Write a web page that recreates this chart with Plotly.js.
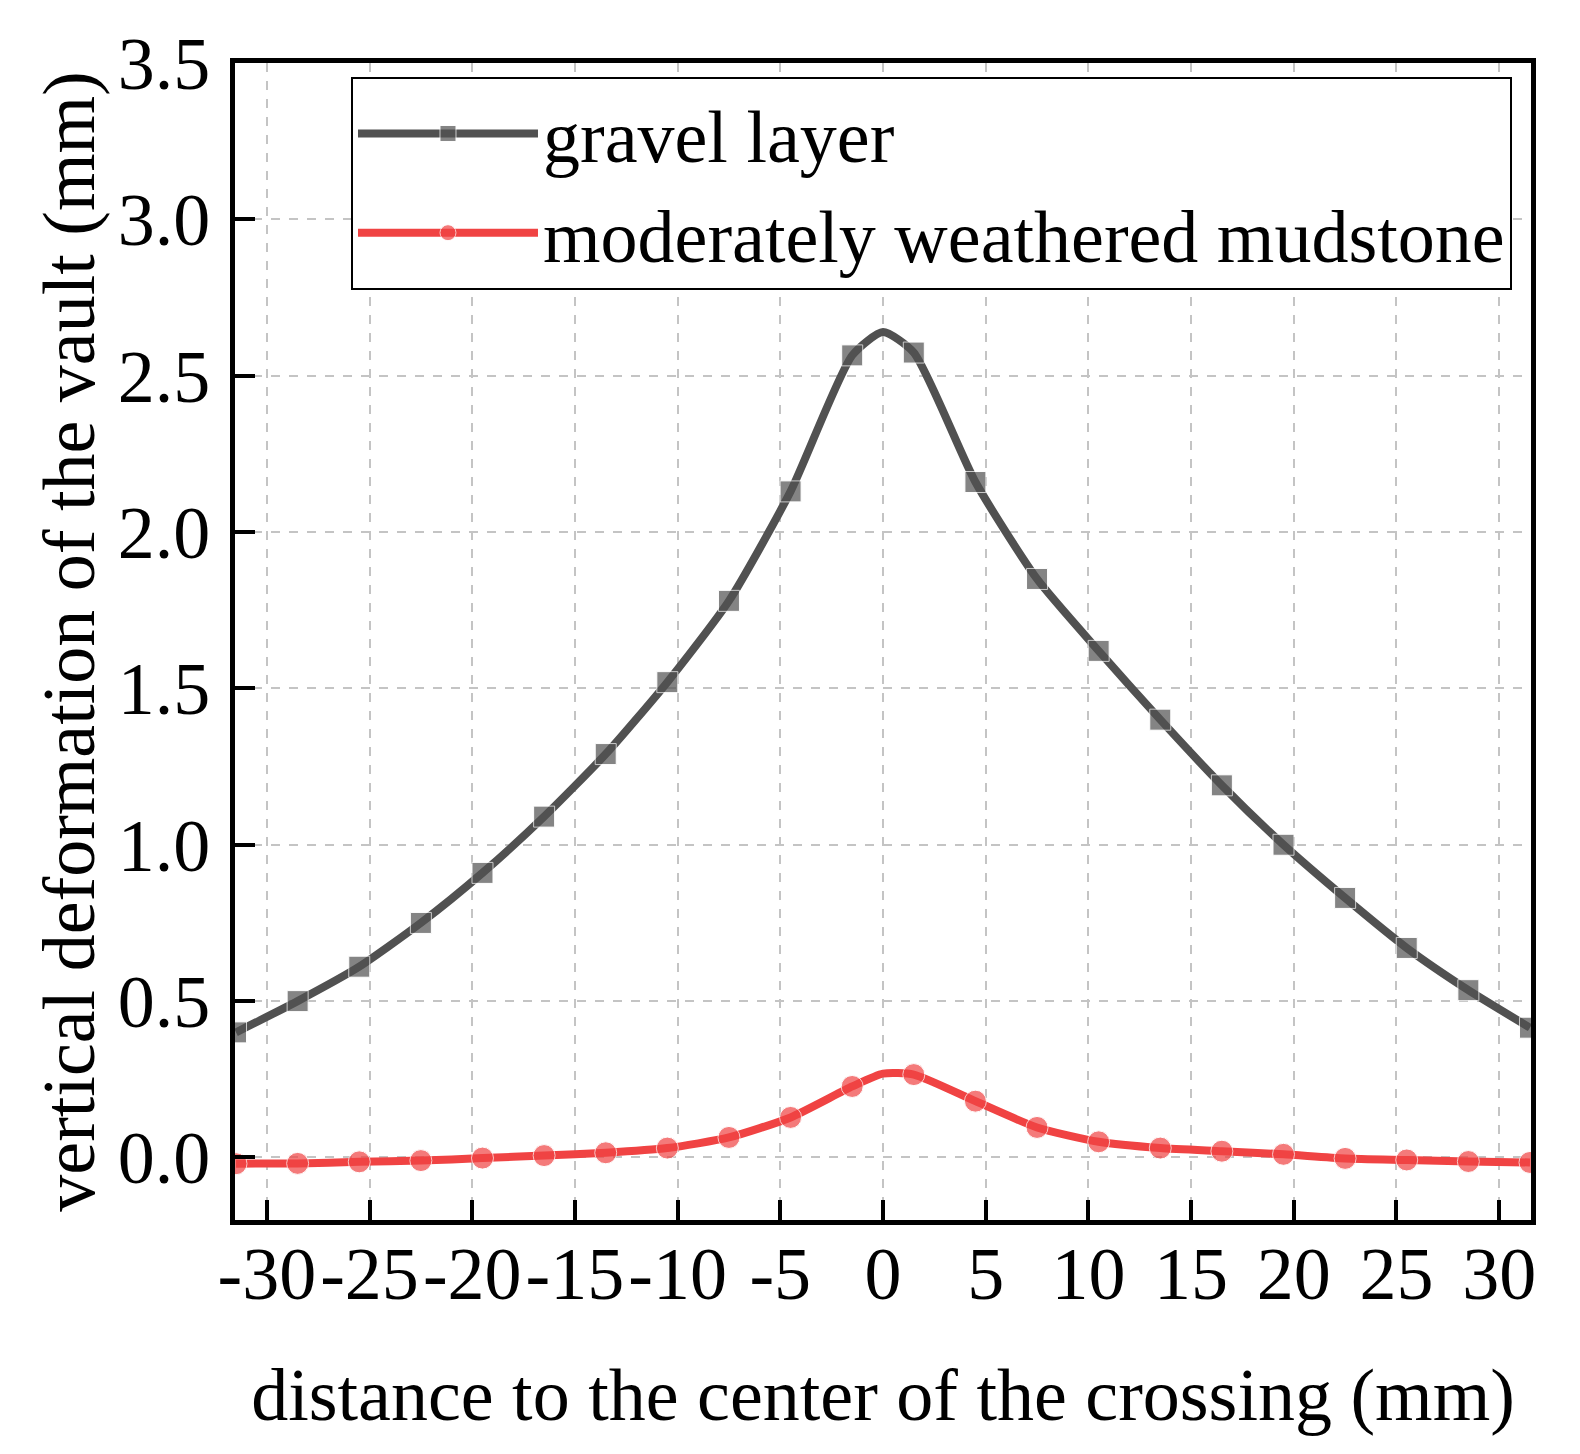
<!DOCTYPE html>
<html>
<head>
<meta charset="utf-8">
<script src="https://cdn.plot.ly/plotly-3.0.1.min.js"></script>
<style>html,body{margin:0;padding:0;background:#fff;}</style>
</head>
<body>
<div id="chart" style="width:1580px;height:1454px;"></div>
<script>
// distance to the center of the crossing (mm)
const distance = [-31.5, -28.5, -25.5, -22.5, -19.5, -16.5, -13.5, -10.5, -7.5, -4.5, -1.5, 0,
                  1.5, 4.5, 7.5, 10.5, 13.5, 16.5, 19.5, 22.5, 25.5, 28.5, 31.5];
// vertical deformation of the vault (mm)
const gravelLayer = [0.40, 0.50, 0.61, 0.75, 0.91, 1.09, 1.29, 1.52, 1.78, 2.13, 2.565, 2.64,
                     2.574, 2.16, 1.85, 1.62, 1.40, 1.19, 1.00, 0.83, 0.67, 0.535, 0.415];
const mudstone = [-0.02, -0.019, -0.014, -0.01, -0.002, 0.006, 0.015, 0.03, 0.064, 0.128, 0.227, 0.268,
                  0.265, 0.18, 0.096, 0.05, 0.03, 0.02, 0.01, -0.003, -0.008, -0.013, -0.016];
// the point at 0 carries no marker in the original
const hasMarker = distance.map(d => d !== 0);

const seriesNames = ['gravel layer', 'moderately weathered mudstone'];
const xTickVals = [-30, -25, -20, -15, -10, -5, 0, 5, 10, 15, 20, 25, 30];
const xTickText = ['-30', '-25', '-20', '-15', '-10', '-5', '0', '5', '10', '15', '20', '25', '30'];
const yTickVals = [0, 0.5, 1.0, 1.5, 2.0, 2.5, 3.0, 3.5];
const yTickText = ['0.0', '0.5', '1.0', '1.5', '2.0', '2.5', '3.0', '3.5'];

const FONT = 'Liberation Serif, Times New Roman, serif';

const traces = [
  {
    x: distance, y: gravelLayer, name: seriesNames[0], type: 'scatter', mode: 'lines+markers',
    line: {color: '#515151', width: 8, shape: 'spline', smoothing: 0.6},
    marker: {symbol: 'square', color: '#515151', size: hasMarker.map(m => m ? 21 : 0)}
  },
  {
    x: distance, y: mudstone, name: seriesNames[1], type: 'scatter', mode: 'lines+markers',
    line: {color: '#f04343', width: 8, shape: 'spline', smoothing: 0.6},
    marker: {symbol: 'circle', color: '#f04343', size: hasMarker.map(m => m ? 22 : 0)}
  }
];

const axisCommon = {
  showline: true, linecolor: '#000', linewidth: 5, mirror: true,
  ticks: 'inside', ticklen: 20, tickwidth: 4, tickcolor: '#000',
  showgrid: true, gridcolor: '#c4c4c4', gridwidth: 2, griddash: 'dash',
  zeroline: false,
  tickfont: {family: FONT, size: 74, color: '#000'},
  tickmode: 'array'
};

const layout = {
  width: 1580, height: 1454,
  paper_bgcolor: '#fff', plot_bgcolor: '#fff',
  margin: {l: 235, r: 49, t: 63, b: 234},
  showlegend: true,
  font: {family: FONT, color: '#000'},
  xaxis: Object.assign({}, axisCommon, {
    range: [-31.55, 31.55], tickvals: xTickVals, ticktext: xTickText,
    ticklabelstandoff: -15,
    title: {text: 'distance to the center of the crossing (mm)', font: {family: FONT, size: 74, color: '#000'}, standoff: 56}
  }),
  yaxis: Object.assign({}, axisCommon, {
    range: [-0.2, 3.5], tickvals: yTickVals, ticktext: yTickText,
    ticklabelstandoff: 5,
    title: {text: 'vertical deformation of the vault (mm)', font: {family: FONT, size: 74, color: '#000'}, standoff: 0}
  }),
  legend: {
    x: 0.0895, y: 0.988, xanchor: 'left', yanchor: 'top',
    bgcolor: '#fff', bordercolor: '#000', borderwidth: 2,
    font: {family: FONT, size: 74, color: '#000'},
    itemwidth: 180, tracegroupgap: 0,
    entrywidth: 992, entrywidthmode: 'pixels'
  }
};

Plotly.newPlot('chart', traces, layout, {displayModeBar: false, staticPlot: true});
</script>
</body>
</html>
